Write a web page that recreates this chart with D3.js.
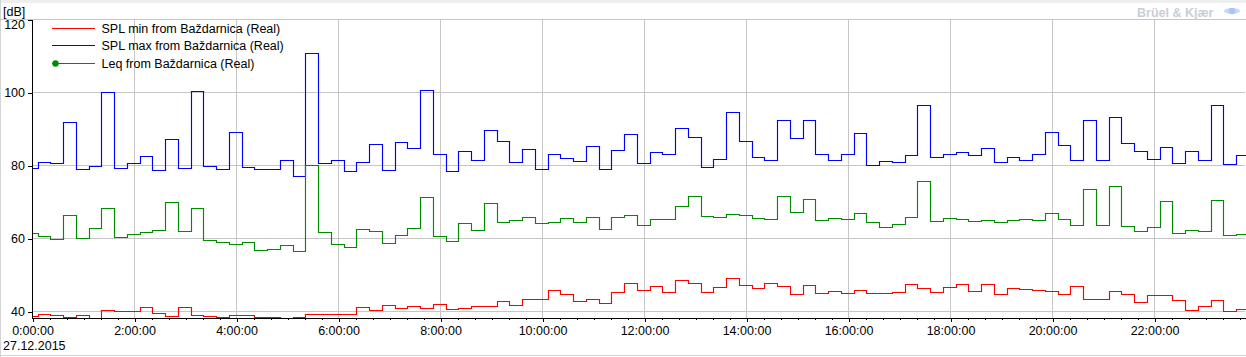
<!DOCTYPE html>
<html><head><meta charset="utf-8">
<script src="https://cdn.jsdelivr.net/npm/d3@7"></script>
<style>
html,body{margin:0;padding:0;background:#fff;overflow:hidden;}
svg{display:block;font-family:"Liberation Sans",Arial,sans-serif;}
</style></head><body>
<svg id="c" width="1246" height="357"></svg>
<script>
// ---------- data ----------
const seriesNames = ["SPL min from Baždarnica (Real)", "SPL max from Baždarnica (Real)", "Leq from Baždarnica (Real)"];
const seriesColors = ["#ff0000", "#0000ff", "#008c00"];

// 15-minute values, 27.12.2015, dB
const splMin = [38.7,39.3,38.9,38.4,39.0,37.5,40.4,40.1,40.1,41.2,39.5,38.7,41.2,39.0,38.7,38.4,
  39.0,39.0,38.4,38.4,37.5,38.4,39.3,39.3,39.3,39.3,41.2,40.4,41.7,40.9,41.5,40.9,
  42.0,40.6,40.9,41.5,41.5,42.8,41.7,43.4,43.4,45.8,44.7,42.8,43.4,42.3,45.3,47.8,
  45.8,46.9,45.3,48.6,47.8,45.3,46.7,49.1,47.2,46.4,47.8,46.9,44.7,47.2,45.0,45.6,
  45.0,45.8,45.0,45.0,45.3,47.5,46.4,45.3,46.7,47.5,45.6,47.5,44.7,46.4,46.1,45.8,
  45.6,44.7,46.9,43.4,43.4,45.6,44.7,42.6,44.5,44.5,43.1,40.4,41.5,43.1,40.1,40.6];
const splMax = [79.3,80.9,80.6,91.9,78.9,79.6,100.0,79.2,80.6,82.5,78.7,87.2,79.2,100.3,79.8,78.9,
  89.1,79.5,78.8,79.0,81.5,77.0,110.7,80.6,81.5,78.4,80.9,85.8,78.7,86.3,84.7,100.6,
  83.0,78.4,83.9,81.4,89.6,86.7,80.9,84.4,78.9,83.0,81.8,81.1,85.2,78.9,84.1,88.5,
  80.6,83.6,83.0,90.2,87.7,79.5,81.7,94.6,86.6,82.2,81.4,92.3,87.4,92.3,83.0,81.4,
  83.0,88.8,80.0,81.1,80.9,82.8,96.5,82.2,83.0,83.6,82.8,84.7,80.9,82.2,81.4,83.0,
  89.1,85.5,81.4,92.2,81.4,93.2,86.1,83.9,81.7,85.0,80.6,83.9,81.4,96.5,80.3,82.8];
const leq = [61.4,60.5,59.8,66.4,60.0,62.8,68.3,60.2,61.2,61.7,62.2,69.9,61.9,68.3,59.5,59.0,
  58.4,59.0,56.8,57.1,58.1,56.5,80.0,61.7,58.4,57.6,62.5,62.0,58.7,60.9,62.8,71.3,
  60.6,59.2,64.2,62.3,69.6,64.4,65.0,65.8,64.0,64.4,65.5,64.4,65.8,62.5,65.8,66.4,
  63.6,65.3,65.3,68.8,71.6,66.1,65.8,66.6,66.4,65.5,65.3,71.6,67.2,70.7,65.0,65.5,
  65.3,66.9,64.4,63.1,63.9,65.8,75.7,64.7,65.5,65.3,64.7,65.0,64.4,65.0,65.3,65.0,
  66.9,65.3,63.6,73.5,63.6,74.3,63.3,62.0,63.1,70.2,61.4,62.3,62.0,70.5,60.9,61.2];

const yTicks = [40, 60, 80, 100, 120];
const yUnit = "[dB]";
const dateLabel = "27.12.2015";
const logoText = "Brüel & Kjær";

// ---------- layout ----------
const W = 1246, H = 357;
const plotL = 32.5, plotR = 1243.75, plotTop = 19.5, plotBottom = 318;
const day = new Date(2015, 11, 27, 0, 0, 0);
const MIN = 60000;
const stepMin = 15, stepStartOffset = -8.5; // each value covers [k*15-8.5, k*15+6.5] min
const endMin = 23 * 60 + 45;

const svg = d3.select("#c");

const x = d3.scaleTime().domain([day, new Date(+day + endMin * MIN)]).range([plotL, plotR]);
const y = d3.scaleLinear().domain([40, 120]).range([311.5, 19.5]);
const px = v => Math.floor(v) + 0.5;

// top strip & borders
svg.append("rect").attr("x", 0).attr("y", 0).attr("width", W).attr("height", 3).attr("fill", "#eeeeee");
svg.append("line").attr("x1", 0.5).attr("x2", 0.5).attr("y1", 0).attr("y2", H).attr("stroke", "#d4d4d4");
svg.append("line").attr("x1", 0).attr("x2", W).attr("y1", 355.5).attr("y2", 355.5).attr("stroke", "#d4d4d4");

const gridColor = "#c6c6c6";
const grid = svg.append("g").attr("shape-rendering", "crispEdges");
const majorTicks = x.ticks(d3.timeHour.every(2)).filter(d => +d > +day);
grid.selectAll("line.v").data(majorTicks).join("line")
  .attr("x1", d => px(x(d))).attr("x2", d => px(x(d)))
  .attr("y1", plotTop).attr("y2", plotBottom).attr("stroke", gridColor);
grid.selectAll("line.h").data(yTicks.filter(v => v < 120)).join("line")
  .attr("x1", plotL).attr("x2", 1245)
  .attr("y1", d => px(y(d))).attr("y2", d => px(y(d)))
  .attr("stroke", gridColor);
grid.append("line").attr("x1", 0).attr("x2", W)
  .attr("y1", px(y(120))).attr("y2", px(y(120))).attr("stroke", gridColor);

svg.append("defs").append("clipPath").attr("id", "clip")
  .append("rect").attr("x", plotL + 0.5).attr("y", plotTop).attr("width", W - plotL).attr("height", plotBottom - plotTop);

function stepData(vals) {
  const pts = vals.map((v, k) => ({ t: new Date(+day + (k * stepMin + stepStartOffset) * MIN), v }));
  pts.push({ t: new Date(+day + ((vals.length - 1) * stepMin + stepStartOffset + stepMin) * MIN), v: vals[vals.length - 1] });
  return pts;
}
const line = d3.line().x(d => px(x(d.t))).y(d => px(y(d.v))).curve(d3.curveStepAfter);

const dataG = svg.append("g").attr("clip-path", "url(#clip)");
[[splMin, 0], [splMax, 1], [leq, 2]].forEach(([vals, i]) => {
  dataG.append("path").datum(stepData(vals)).attr("d", line)
    .attr("fill", "none").attr("stroke", seriesColors[i]).attr("stroke-width", 1.15);
});

// axes
const fontSize = "12.5px";
const xAxis = svg.append("g").attr("transform", `translate(0,${plotBottom})`)
  .call(d3.axisBottom(x).ticks(d3.timeHour.every(2)).tickFormat(d3.timeFormat("%-H:%M:%S")).tickSize(4).tickSizeOuter(0));
xAxis.select(".domain").attr("d", `M${plotL},0.5H${W}`).attr("stroke", "#000");
xAxis.selectAll("text").attr("font-size", fontSize).attr("font-family", "Liberation Sans, Arial, sans-serif").attr("fill", "#000").attr("y", 8);
xAxis.attr("shape-rendering", "crispEdges");
const minorAxis = svg.append("g").attr("transform", `translate(0,${plotBottom})`)
  .call(d3.axisBottom(x).ticks(d3.timeMinute.every(20)).tickFormat("").tickSize(2).tickSizeOuter(0));
minorAxis.select(".domain").remove();
minorAxis.attr("shape-rendering", "crispEdges");

const yAxis = svg.append("g").attr("transform", `translate(${Math.floor(plotL)},0)`)
  .call(d3.axisLeft(y).tickValues(yTicks).tickSize(4).tickSizeOuter(0));
yAxis.select(".domain").attr("d", `M0.5,${plotTop}V${plotBottom + 1}`).attr("stroke", "#000");
yAxis.selectAll("text").attr("font-size", fontSize).attr("font-family", "Liberation Sans, Arial, sans-serif").attr("fill", "#000");
yAxis.selectAll(".tick").filter(d => d === 120).select("text").attr("y", 5);
yAxis.attr("shape-rendering", "crispEdges");

svg.append("text").attr("x", 3).attr("y", 15.5).attr("font-size", fontSize).attr("fill", "#000").text(yUnit);
svg.append("text").attr("x", 3).attr("y", 350).attr("font-size", fontSize).attr("fill", "#000").text(dateLabel);

// legend
const leg = svg.append("g");
[0, 1, 2].forEach((i, r) => {
  const ly = 28.5 + r * 17.3;
  leg.append("line").attr("x1", 52).attr("x2", 95).attr("y1", px(ly)).attr("y2", px(ly))
    .attr("stroke", seriesColors[i]).attr("stroke-width", 1);
  if (i === 2) leg.append("circle").attr("cx", 55.5).attr("cy", px(ly)).attr("r", 3.2).attr("fill", seriesColors[i]);
  leg.append("text").attr("x", 101.5).attr("y", ly + 4.5).attr("font-size", fontSize).attr("fill", "#000").text(seriesNames[i]);
});

// logo
svg.append("text").attr("x", 1137).attr("y", 16.5).attr("font-size", "12.5px").attr("font-weight", "bold")
  .attr("fill", "#c9ced6").text(logoText);
const logo = svg.append("g");
logo.append("ellipse").attr("cx", 1232).attr("cy", 11).attr("rx", 8).attr("ry", 3).attr("fill", "#c4d9f4");
logo.append("circle").attr("cx", 1232).attr("cy", 11).attr("r", 3.2).attr("fill", "#a9c7ef");
</script>
</body></html>
